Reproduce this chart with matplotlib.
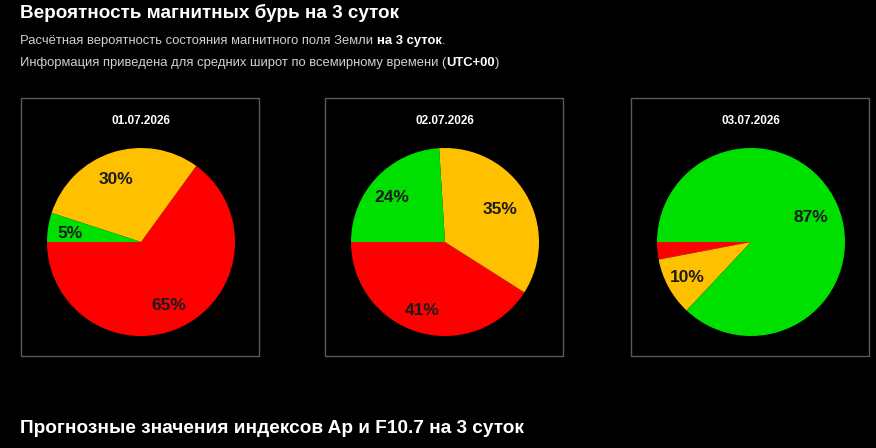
import matplotlib.pyplot as plt
from matplotlib.patches import Rectangle

plt.rcParams['font.family'] = ['Liberation Sans', 'DejaVu Sans']

dates = ['01.07.2026', '02.07.2026', '03.07.2026']
# order: storm (red), unsettled (yellow), quiet (green)
red = [65, 41, 3]
yellow = [30, 35, 10]
green = [5, 24, 87]
colors = ['#ff0000', '#ffc000', '#00e000']

W, H = 876, 448
fig = plt.figure(figsize=(W / 100, H / 100), dpi=100, facecolor='black')


def fx(px):
    return px / W


def fy(py):
    return 1 - py / H


fig.text(fx(20), fy(13), 'Вероятность магнитных бурь на 3 суток', color='white',
         fontsize=13.6, fontweight='bold', va='center')
fig.text(fx(20), fy(428), 'Прогнозные значения индексов Ap и F10.7 на 3 суток', color='white',
         fontsize=13.7, fontweight='bold', va='center')

fig.canvas.draw()
renderer = fig.canvas.get_renderer()


def rich_line(x, y, parts):
    for s, bold in parts:
        t = fig.text(fx(x), fy(y), s, color='white' if bold else '#d0d0d0', fontsize=9.4,
                     fontweight='bold' if bold else 'normal', va='center')
        x += t.get_window_extent(renderer).width


rich_line(20, 41, [('Расчётная вероятность состояния магнитного поля Земли ', False),
                   ('на 3 суток', True), ('.', False)])
rich_line(20, 63, [('Информация приведена для средних широт по всемирному времени (', False),
                   ('UTC+00', True), (')', False)])

box_left = [21, 325, 631]
box_w, box_top, box_bot = 238, 98, 356
r = 94
px = 1.0 / r  # one pixel in pie data units


def pct(p):
    return '%d%%' % round(p) if p >= 5 else ''


for i in range(3):
    bx = box_left[i]
    fig.add_artist(Rectangle((fx(bx), fy(box_bot)), box_w / W, (box_bot - box_top) / H,
                             transform=fig.transFigure, fill=False, edgecolor='#5a5a5a', lw=1))
    cx = bx + box_w / 2 + 1
    fig.text(fx(cx), fy(121), dates[i], color='white', fontsize=8.5, fontweight='bold',
             ha='center', va='center')
    ax = fig.add_axes([fx(cx - r), fy(242 + r), 2 * r / W, 2 * r / H])
    wedges, texts, autotexts = ax.pie([red[i], yellow[i], green[i]], colors=colors,
                                      startangle=180, counterclock=True,
                                      autopct=pct, pctdistance=0.73, radius=1,
                                      textprops=dict(color='#1a1a1a', fontsize=12.5,
                                                     fontweight='bold'))
    for t in autotexts:
        x, y = t.get_position()
        t.set_position((x - 3.5 * px, y - 2.5 * px))
    ax.set_xlim(-1, 1)
    ax.set_ylim(-1, 1)
    ax.set_aspect('equal')
    ax.axis('off')

fig.savefig('out.png', dpi=100, facecolor='black')
